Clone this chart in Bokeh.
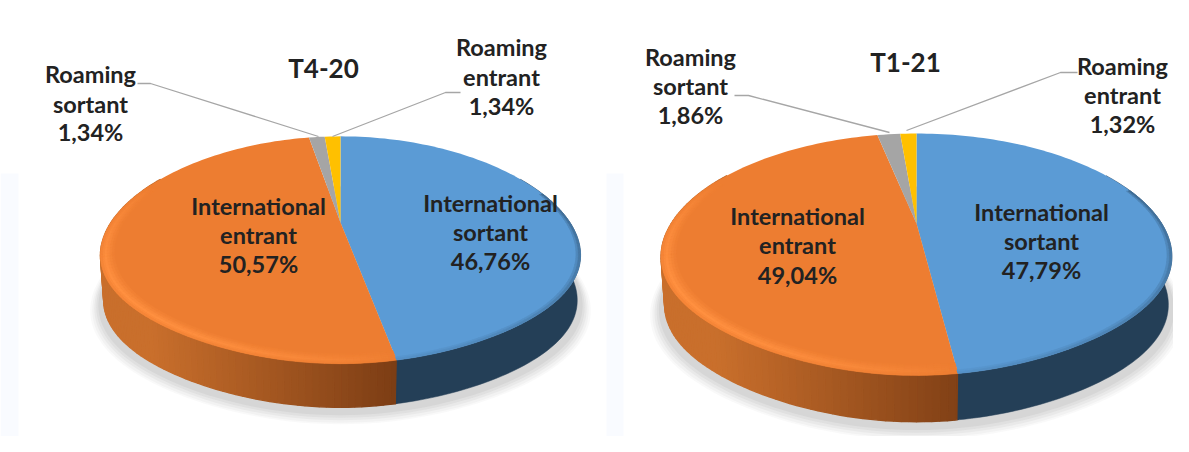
import math
from bokeh.plotting import figure
from bokeh.embed import file_html
from bokeh.resources import INLINE
from bokeh.core.properties import value

# ---- data ----
categories = ["International sortant", "International entrant", "Roaming sortant", "Roaming entrant"]
t4_values = [46.76, 50.57, 1.34, 1.34]
t1_values = [47.79, 49.04, 1.86, 1.32]
t4_labels = ["46,76%", "50,57%", "1,34%", "1,34%"]
t1_labels = ["47,79%", "49,04%", "1,86%", "1,32%"]
titles = ["T4-20", "T1-21"]
slice_colors = ["#5b9bd5", "#ed7d31", "#a5a5a5", "#ffc000"]

W, H = 1173, 436
p = figure(width=W, height=H, x_range=(0, W), y_range=(H, 0), output_backend="svg",
           toolbar_location=None, min_border=0, outline_line_color=None)
p.axis.visible = False
p.grid.visible = False
p.background_fill_color = "#ffffff"
p.border_fill_color = "#ffffff"

p.quad(left=[0, 606], right=[18, 623], top=[173, 173], bottom=[H, H],
       fill_color="#f9fbff", line_color=None)


def mix(c1, c2, t):
    t = max(0.0, min(1.0, t))
    a = [int(c1[i:i + 2], 16) for i in (1, 3, 5)]
    b = [int(c2[i:i + 2], 16) for i in (1, 3, 5)]
    return "#%02x%02x%02x" % tuple(round(a[i] + (b[i] - a[i]) * t) for i in range(3))


def draw_pie(values, geo):
    cx, ay, R, S, k, depth, sag = geo

    def proj(deg, r=1.0, z=0.0):
        a = math.radians(deg)
        c = math.cos(a)
        u, v = r * math.sin(a), r * c
        d = 1 + k * v
        squeeze = 1 - 0.1 * c ** 4 if c < 0 else 1.0
        return cx + R * u / d * squeeze, ay - S * v / d + z + sag * r * (1 - c * c)

    total = sum(values)
    edges = [0.0]
    for val in values:
        edges.append(edges[-1] + val / total * 360)

    # soft drop shadow
    for r, z, al in [(1.04, depth + 8, .05), (1.032, depth + 8, .06), (1.024, depth + 7, .07),
                     (1.016, depth + 6, .09), (1.008, depth + 5, .1)]:
        pts = [proj(d, r, z) for d in range(0, 360, 2)]
        p.patch([q[0] for q in pts], [q[1] for q in pts], fill_color="#808080", fill_alpha=al, line_color=None)

    # the wall's lower edge is a little narrower than the face
    low = 0.987

    # side wall: a flat dark blue piece, then orange shaded in strips
    step = 1.5
    n = 80
    degs = [60 + (edges[1] - 60) * j / n for j in range(n + 1)]
    top = [proj(d) for d in degs]
    bot = [proj(d, low, depth + 1) for d in degs]
    p.patch([q[0] for q in top] + [q[0] for q in reversed(bot)],
            [q[1] for q in top] + [q[1] for q in reversed(bot)],
            fill_color="#243f57", line_color="#243f57", line_width=0.5)
    xs, ys, cols = [], [], []
    deg = 300.0
    while deg > edges[1]:
        d2 = max(deg - step, edges[1])
        a, b = proj(deg), proj(d2)
        a2, b2 = proj(deg, low, depth + 1), proj(d2, low, depth + 1)
        col = mix("#7a3c14", "#c96f2c", (cx + R * 0.25 - a[0]) / (R * 1.08))
        xs.append([a[0], b[0], b2[0], a2[0]])
        ys.append([a[1], b[1], b2[1], a2[1]])
        cols.append(col)
        deg = d2
    p.patches(xs[::-1], ys[::-1], fill_color=cols[::-1], line_color=cols[::-1], line_width=1.4)
    # keep the blue/orange border of the wall sharp
    edge, edge2 = proj(edges[1]), proj(edges[1], low, depth + 1)
    p.segment([edge[0] + 1], [edge[1]], [edge2[0] + 1], [edge2[1]], line_color="#243f57", line_width=1.5)

    # top face, one wedge per value
    for i, col in enumerate(slice_colors):
        n = max(2, int((edges[i + 1] - edges[i]) / 1.5))
        pts = [proj(edges[i] + (edges[i + 1] - edges[i]) * j / n) for j in range(n + 1)]
        p.patch([cx] + [q[0] for q in pts], [ay] + [q[1] for q in pts], fill_color=col, line_color=None)

    # bevel round the lower rim of the orange slice
    rings = [(0.945, 0.955, .2), (0.955, 0.965, .45), (0.965, 0.975, .75), (0.975, 0.985, 1.0),
             (0.985, 0.992, .8), (0.992, 1.0, .5)]
    b_end = 295.0
    xs, ys, cols = [], [], []
    deg = edges[1]
    while deg < b_end:
        d2 = deg + step
        mid = (deg + d2) / 2
        strength = max(0.0, math.sin(math.radians((mid - edges[1]) / (b_end - edges[1]) * 180))) ** 0.7
        for r1, r2, w in rings:
            a, b, c, e = proj(deg, r1), proj(d2, r1), proj(d2, r2), proj(deg, r2)
            xs.append([a[0], b[0], c[0], e[0]])
            ys.append([a[1], b[1], c[1], e[1]])
            cols.append(mix("#ed7d31", "#ff9040", w * strength))
        deg = d2
    p.patches(xs, ys, fill_color=cols, line_color=cols, line_width=0.6)

    # darkening on the rim of the blue slice, fading towards the front
    xs, ys, cols = [], [], []
    deg = 70.0
    while deg < edges[1]:
        d2 = min(deg + step, edges[1])
        fade = max(0.0, 1 - (deg - 70) / (edges[1] - 70)) * 0.6 + 0.15
        for r1, r2, w in [(0.982, 0.991, .35), (0.991, 1.0, .7)]:
            a, b, c, e = proj(deg, r1), proj(d2, r1), proj(d2, r2), proj(deg, r2)
            xs.append([a[0], b[0], c[0], e[0]])
            ys.append([a[1], b[1], c[1], e[1]])
            cols.append(mix("#5b9bd5", "#243f57", w * fade))
        deg = d2
    p.patches(xs, ys, fill_color=cols, line_color=cols, line_width=0.6)


# apex x, apex y, horizontal radius, vertical radius, perspective, wall height, side sag
draw_pie(t4_values, (340, 222, 233, 107, 0.242, 45, 6))
draw_pie(t1_values, (916, 223, 247, 113, 0.256, 48, 3))

# leader lines
p.multi_line([[137, 150, 318], [460, 445, 332], [734, 748, 889], [1077, 1060, 906]],
             [[83, 83, 136], [92, 92, 136], [95, 95, 132], [72, 72, 130]],
             line_color="#a6a6a6", line_width=1.3)

FONT = value("Lato")
INK = "#222222"


def label(x, ys, name, pct):
    words = name.split(" ")
    for y, txt in zip(ys, words + [pct]):
        p.text([x], [y - 2], text=[txt], text_font=FONT, text_font_size="23.5px", text_font_style="bold",
               text_color=INK, text_align="center", text_baseline="middle")


label(90, (75, 105, 133), categories[2], t4_labels[2])
label(501, (48, 78, 107), categories[3], t4_labels[3])
label(258, (207, 236, 265), categories[1], t4_labels[1])
label(490, (204, 233, 262), categories[0], t4_labels[0])
label(690, (58, 87, 116), categories[2], t1_labels[2])
label(1122, (67, 96, 125), categories[3], t1_labels[3])
label(797, (217, 246, 276), categories[1], t1_labels[1])
label(1041, (213, 242, 271), categories[0], t1_labels[0])

p.text([323, 905], [67, 61], text=titles, text_font=FONT, text_font_size="26px", text_font_style="bold",
       text_color=INK, text_align="center", text_baseline="middle")

open("out.html", "w").write(file_html(p, INLINE))
